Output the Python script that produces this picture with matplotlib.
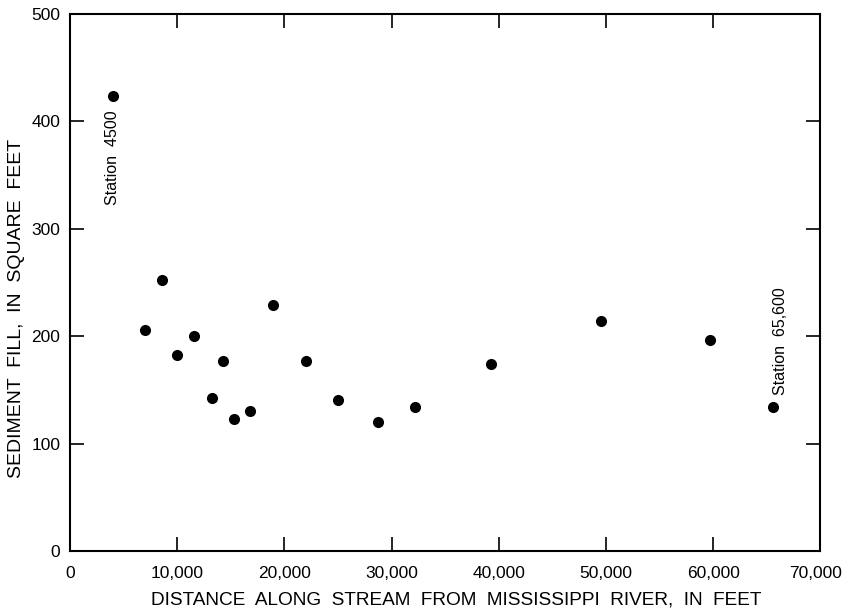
import matplotlib
matplotlib.use('Agg')
import matplotlib.pyplot as plt
import matplotlib.transforms as mtransforms

# distance along stream (ft) and sediment fill (sq ft)
distance = [4000, 7000, 8600, 10000, 11600, 13200, 14300, 15300, 16800,
            18900, 22000, 25000, 28700, 32200, 39300, 49500, 59700, 65600]
fill = [424, 206, 252, 183, 200, 143, 177, 123, 130,
        229, 177, 141, 120, 134, 174, 214, 197, 134]

xticks = [0, 10000, 20000, 30000, 40000, 50000, 60000, 70000]
xticklabels = ['0', '10,000', '20,000', '30,000', '40,000', '50,000', '60,000', '70,000']
yticks = [0, 100, 200, 300, 400, 500]

plt.rcParams['font.family'] = ['Liberation Sans', 'DejaVu Sans']

fig = plt.figure(figsize=(8.44, 6.13), dpi=100)
ax = fig.add_axes([0.083, 0.101, 0.889, 0.876])

ax.plot(distance, fill, 'o', color='black', markersize=8, markeredgewidth=0)

ax.set_xlim(0, 70000)
ax.set_ylim(0, 500)
ax.set_xticks(xticks)
ax.set_xticklabels(xticklabels, fontsize=13)
ax.set_yticks(yticks)
ax.tick_params(direction='in', length=10, width=1.2, top=True, right=True, labelsize=12.5)
ax.tick_params(axis='x', pad=11)
ax.tick_params(axis='y', pad=7)
for s in ax.spines.values():
    s.set_linewidth(1.5)

# last tick label sits against the figure edge; pull it in a little
last = ax.get_xticklabels()[-1]
last.set_transform(last.get_transform() + mtransforms.ScaledTranslation(-5 / 100, 0, fig.dpi_scale_trans))

ax.set_xlabel('DISTANCE  ALONG  STREAM  FROM  MISSISSIPPI  RIVER,  IN  FEET',
              fontsize=13.7, labelpad=7)
ax.xaxis.set_label_coords(0.515, -0.075)
fig.text(17 / 844, 1 - 308 / 613, 'SEDIMENT  FILL,  IN  SQUARE  FEET',
         rotation=90, ha='center', va='center', fontsize=14)

ax.text(distance[0], 410, 'Station  4500', rotation=90, ha='center', va='top', fontsize=11.5)
ax.text(66300, 145, 'Station  65,600', rotation=90, ha='center', va='bottom', fontsize=11.5)

plt.savefig('out.png', dpi=100)
